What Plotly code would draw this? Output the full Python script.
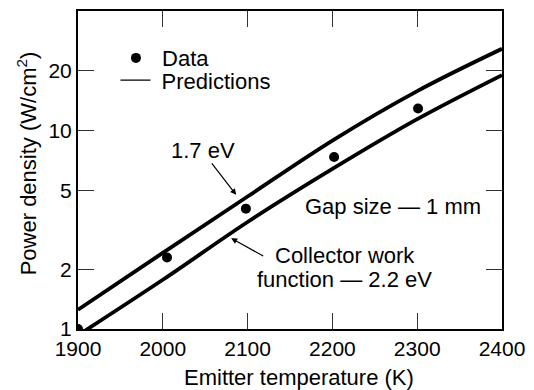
import plotly.graph_objects as go
import math

# Data
temp_data = [1900, 2005, 2098, 2202, 2301]
power_data = [1.0, 2.29, 4.04, 7.36, 12.9]

temp_pred = [1900, 2000, 2100, 2200, 2300, 2400]
pred_17 = [1.25, 2.42, 4.65, 8.9, 15.8, 25.8]
pred_22 = [0.93, 1.77, 3.46, 6.4, 11.4, 19.0]

x_ticks = [1900, 2000, 2100, 2200, 2300, 2400]
y_ticks = [1, 2, 5, 10, 20]

FONT = "Liberation Sans, Arial, Helvetica, sans-serif"
FS = 21
FT = 22
NB = "\u00a0"

fig = go.Figure()
for ys in (pred_17, pred_22):
    fig.add_trace(go.Scatter(x=temp_pred, y=ys, mode="lines", line=dict(color="black", width=3.8, shape="spline"),
                             showlegend=False, hoverinfo="skip"))
fig.add_trace(go.Scatter(x=temp_data, y=power_data, mode="markers", name=NB + "Data",
                         marker=dict(color="black", size=10), legend="legend"))
fig.add_trace(go.Scatter(x=[None], y=[None], mode="lines", name=NB + "Predictions",
                         line=dict(color="black", width=1.3), legend="legend2"))

axis_common = dict(showline=True, linecolor="black", linewidth=2, mirror="ticks",
                   ticks="inside", ticklen=16, tickwidth=1.2, tickcolor="#333",
                   showgrid=False, zeroline=False,
                   tickfont=dict(family=FONT, size=FS, color="black"))

fig.update_xaxes(range=[1900, 2400], tickvals=x_ticks, ticktext=[str(v) for v in x_ticks], **axis_common)
fig.update_yaxes(type="log", range=[0, math.log10(40)], tickvals=y_ticks,
                 ticktext=[str(v) for v in y_ticks], **axis_common)

ann = []
def txt(t, x, y, **kw):
    ann.append(dict(text=t, x=x, y=y, xref="x", yref="y", showarrow=False,
                    xanchor="center", yanchor="middle",
                    font=dict(family=FONT, size=FT, color="black"), **kw))

txt("1.7 eV", 2047, 0.898)
txt("Gap size — 1 mm", 2271, 0.619)
txt("Collector work", 2215, 0.371)
txt("function — 2.2 eV", 2214, 0.249)

for (hx, hy, ax, ay) in [(2086.5, 0.676, -25.5, -33), (2080.6, 0.457, 33.5, 18.5)]:
    ann.append(dict(text="", x=hx, y=hy, xref="x", yref="y", showarrow=True,
                    ax=ax, ay=ay, arrowhead=2, arrowsize=1, arrowwidth=1.2,
                    arrowcolor="black", standoff=0))

ann.append(dict(text="Emitter temperature (K)", xref="paper", yref="paper", x=0.521, y=0,
                xanchor="center", yanchor="middle",
                yshift=-48, showarrow=False, font=dict(family=FONT, size=FT, color="black")))
ann.append(dict(text="Power density (W/cm<sup>2</sup>)", xref="paper", yref="paper", x=-0.121, y=0.52,
                xanchor="center", yanchor="middle",
                textangle=-90, showarrow=False, font=dict(family=FONT, size=FT, color="black")))

leg_common = dict(xanchor="left", yanchor="top", bgcolor="rgba(0,0,0,0)",
                  font=dict(family=FONT, size=FT, color="black"), itemwidth=30, tracegroupgap=0)

fig.update_layout(
    width=534, height=390,
    margin=dict(l=78, r=32, t=9, b=61),
    paper_bgcolor="white", plot_bgcolor="white",
    annotations=ann,
    legend=dict(x=0.0895, y=0.918, **leg_common),
    legend2=dict(x=0.0884, y=0.848, **leg_common),
    showlegend=True,
)

fig.write_html("out.html")
